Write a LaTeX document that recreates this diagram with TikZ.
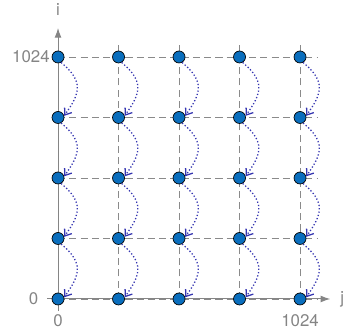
\documentclass[tikz,border=0pt]{standalone}
\usepackage{fontspec}
\setmainfont{TeX Gyre Heros}
\usetikzlibrary{arrows.meta}
\definecolor{axisgray}{HTML}{858585}
\definecolor{gridgray}{HTML}{8A8A8A}
\definecolor{ptblue}{HTML}{0A6EBD}
\definecolor{depblue}{HTML}{3535B0}
\tikzset{
  axisln/.style={draw=axisgray,line width=0.7pt,-{Latex[length=2.4mm,width=1.7mm]}},
  gridln/.style={draw=gridgray,dash pattern=on 5pt off 3pt,line width=0.5pt},
  pt/.style={circle,draw=black,fill=ptblue,line width=0.5pt,inner sep=0pt,minimum size=3mm},
  dep/.style={draw=depblue,line width=0.9pt,dash pattern=on 0.9pt off 1.5pt,-{Straight Barb[length=1.5mm,width=2.2mm]}},
  lbl/.style={text=axisgray,inner sep=1pt,font=\fontsize{12}{14}\selectfont},
}
\begin{document}
\begin{tikzpicture}[x=1.5125cm,y=1.5125cm]
  \useasboundingbox (-0.959,-0.496) rectangle (4.760,4.942);
  % dashed grid
  \foreach \k in {0,...,4}{
    \draw[gridln] (0,\k) -- (4.3,\k);
    \draw[gridln] (\k,0) -- (\k,4.25);
  }
  % axes
  \coordinate (xtip) at (4.5,0);
  \coordinate (ytip) at (0,4.48);
  \coordinate (xfoot) at (-0.18,0);
  \coordinate (yfoot) at (0,-0.2);
  \draw[axisln] (xfoot) -- (xtip);
  \draw[axisln] (yfoot) -- (ytip);
  \node[lbl] (jlab) at (4.7,0) {j};
  \node[lbl] (ilab) at (0,4.78) {i};
  \node[lbl,anchor=east] (i0) at (-0.3,0) {0};
  \node[lbl,anchor=east] (i1024) at (-0.11,4) {1024};
  \node[lbl] (j0) at (0,-0.35) {0};
  \node[lbl] (j1024) at (4,-0.35) {1024};
  % iteration points
  \foreach \c in {0,...,4}{
    \foreach \r in {0,...,4}{
      \node[pt] (p\c\r) at (\c,\r) {};
    }
  }
  % dependences, each point on the one below
  \foreach \c in {0,...,4}{
    \foreach \r/\s in {4/3,3/2,2/1,1/0}{
      \draw[dep] (p\c\r.-60) .. controls +(-40:0.5) and +(55:0.45) .. (p\c\s.15);
    }
  }
\end{tikzpicture}
\end{document}
